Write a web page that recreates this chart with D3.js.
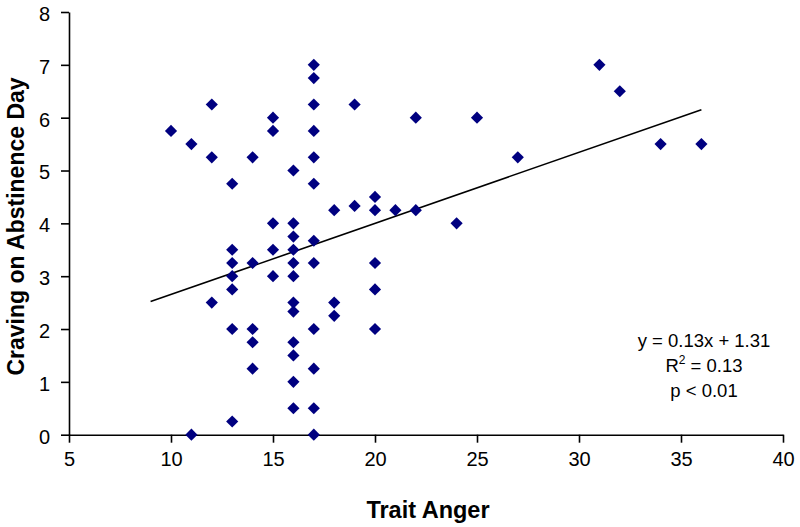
<!DOCTYPE html>
<html>
<head>
<meta charset="utf-8">
<script src="https://cdn.jsdelivr.net/npm/d3@7"></script>
<style>
  html, body { margin: 0; padding: 0; background: #fff; }
  svg { display: block; font-family: Arial, "Liberation Sans", sans-serif; }
</style>
</head>
<body>
<svg id="chart" width="800" height="527"></svg>
<script>
// Data (Trait Anger vs Craving on Abstinence Day)
const traitAnger = [
  10, 11, 12, 12, 13, 14, 15, 15, 16, 16, 16, 17, 17, 17, 17, 17, 17, 17, 15, 18,
  19, 19, 20, 20, 21, 13, 13, 13, 13, 14, 15, 15, 16, 16, 16, 16, 16, 16, 16, 16,
  16, 17, 17, 17, 17, 17, 11, 12, 13, 13, 14, 14, 14, 18, 18, 20, 20, 20, 22, 22,
  24, 25, 27, 31, 32, 34, 36
];
const craving = [
  5.75, 5.5, 6.25, 5.25, 4.75, 5.25, 6.0, 5.75, 5.0, 4.0, 3.75, 7.0, 6.75, 6.25, 5.75, 5.25, 4.75, 3.67, 4.0, 4.25,
  6.25, 4.33, 4.5, 4.25, 4.25, 3.5, 3.25, 3.0, 2.75, 3.25, 3.5, 3.0, 3.5, 3.25, 3.0, 2.5, 2.33, 1.75, 1.5, 1.0,
  0.5, 3.25, 2.0, 1.25, 0.5, 0.0, 0.0, 2.5, 2.0, 0.25, 2.0, 1.75, 1.25, 2.5, 2.25, 3.25, 2.75, 2.0, 4.25, 6.0,
  4.0, 6.0, 5.25, 7.0, 6.5, 5.5, 5.5
];
const xTicks = [5, 10, 15, 20, 25, 30, 35, 40];
const yTicks = [0, 1, 2, 3, 4, 5, 6, 7, 8];
const trendSlope = 0.1345;
const trendIntercept = 1.31;
const trendXRange = [9, 36];
const annotationLines = ["y = 0.13x + 1.31", "R2 = 0.13", "p < 0.01"];
const xTitle = "Trait Anger";
const yTitle = "Craving on Abstinence Day";

const svg = d3.select("#chart");
const mLeft = 69, mRight = 783, mTop = 12, mBottom = 434.7;

const x = d3.scaleLinear().domain([5, 40]).range([mLeft, mRight]);
const y = d3.scaleLinear().domain([0, 8]).range([mBottom, mTop]);

// Axes
const xAxis = svg.append("g")
  .attr("transform", `translate(0,${mBottom})`)
  .call(d3.axisBottom(x).tickValues(xTicks).tickSize(8).tickPadding(10).tickSizeOuter(0));
const yAxis = svg.append("g")
  .attr("transform", `translate(${mLeft},0)`)
  .call(d3.axisLeft(y).tickValues(yTicks).tickSize(8).tickPadding(10).tickSizeOuter(0));

[xAxis, yAxis].forEach(g => {
  g.select(".domain").attr("stroke", "#000").attr("stroke-width", 1.6);
  g.selectAll(".tick line").attr("stroke", "#000").attr("stroke-width", 1.6);
  g.selectAll(".tick text")
    .attr("fill", "#000")
    .style("font-family", "Arial, 'Liberation Sans', sans-serif")
    .style("font-size", "20px");
});
yAxis.selectAll(".tick text").attr("x", -19).attr("dy", "0.42em");
xAxis.selectAll(".tick text").attr("y", 17);

// Trend line
svg.append("line")
  .attr("x1", x(trendXRange[0]))
  .attr("y1", y(trendIntercept + trendSlope * trendXRange[0]))
  .attr("x2", x(trendXRange[1]))
  .attr("y2", y(trendIntercept + trendSlope * trendXRange[1]))
  .attr("stroke", "#000")
  .attr("stroke-width", 1.6);

// Points (diamonds)
const diamond = d3.symbol().type(d3.symbolSquare).size(74);
svg.append("g")
  .selectAll("path")
  .data(traitAnger.map((v, i) => [v, craving[i]]))
  .join("path")
  .attr("d", diamond)
  .attr("transform", d => `translate(${x(d[0])},${y(d[1])}) rotate(45)`)
  .attr("fill", "#000080");

// Annotation
const ann = svg.append("g")
  .attr("font-size", "18.5px")
  .attr("fill", "#000")
  .attr("text-anchor", "middle");
ann.append("text").attr("x", 704).attr("y", 347).text(annotationLines[0]);
const r2 = ann.append("text").attr("x", 704).attr("y", 372);
r2.append("tspan").text("R");
r2.append("tspan").attr("dy", -8).attr("font-size", "12px").text("2");
r2.append("tspan").attr("dy", 8).text(" = 0.13");
ann.append("text").attr("x", 704).attr("y", 397).text(annotationLines[2]);

// Axis titles
svg.append("text")
  .attr("x", (mLeft + mRight) / 2 + 2)
  .attr("y", 517.5)
  .attr("text-anchor", "middle")
  .attr("font-weight", "bold")
  .attr("font-size", "23.5px")
  .text(xTitle);

svg.append("text")
  .attr("transform", `translate(24,${226.5}) rotate(-90)`)
  .attr("text-anchor", "middle")
  .attr("font-weight", "bold")
  .attr("font-size", "23px")
  .text(yTitle);
</script>
</body>
</html>
